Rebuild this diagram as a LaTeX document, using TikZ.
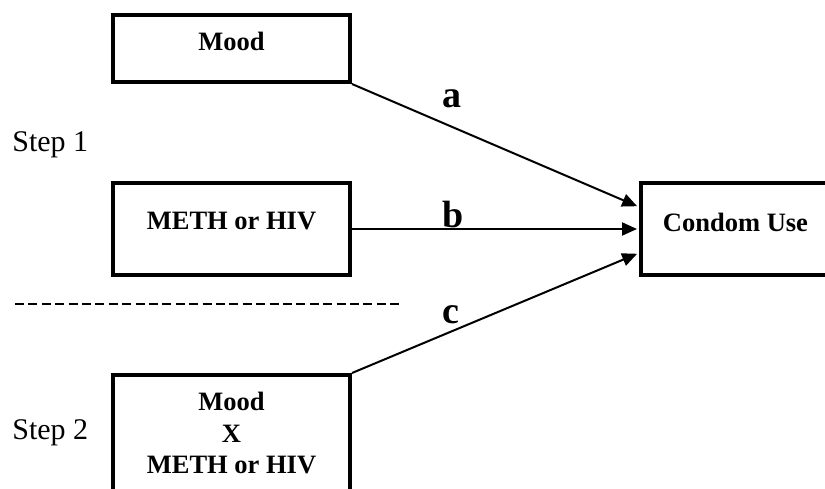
\documentclass[tikz,border=0pt]{standalone}
\usepackage{fontspec}
\setmainfont{Liberation Serif}
\usepackage{tikz}
\usetikzlibrary{arrows.meta,calc}

\tikzset{
  varbox/.style={draw, line width=2pt, minimum width=118.5pt, inner sep=0pt, align=center,
    font=\bfseries\fontsize{13.25}{15.75}\selectfont},
  steplabel/.style={anchor=base west, inner sep=0pt, font=\fontsize{15}{18}\selectfont},
  pathlabel/.style={anchor=base, inner sep=0pt, font=\bfseries\fontsize{19}{22}\selectfont},
  effect/.style={-{Triangle[length=7.5pt,width=6.5pt]}, line width=1pt, shorten >=1pt}
}

\begin{document}
\begin{tikzpicture}[x=0.5pt, y=-0.5pt]
\clip (0,0) rectangle (825,488);
% boxes
\node[varbox, text height=17.5pt, text depth=16pt] (mood) at (231.5,48.5) {Mood};
\node[varbox, text height=23pt, text depth=23pt] (meth) at (231.5,229) {METH or HIV};
\node[varbox, minimum height=58pt] (inter) at (231.5,433) {Mood\\X\\METH or HIV};
\node[varbox, minimum width=94.5pt, text height=24pt, text depth=22pt] (condom) at (735.5,229) {Condom Use};
% steps
\node[steplabel] (step1) at (12,151) {Step 1};
\node[steplabel] (step2) at (12,439) {Step 2};
\draw[line width=1pt, dash pattern=on 4.5pt off 2.2pt] (15,304) -- (400,304);
% paths
\draw[effect] (mood.south east) -- ([yshift=11pt]condom.west);
\draw[effect] (meth.east) -- (condom.west);
\draw[effect] (inter.north east) -- ([yshift=-12pt]condom.west);
\node[pathlabel] (a) at (452,107) {a};
\node[pathlabel] (b) at (453,227) {b};
\node[pathlabel] (c) at (451,323) {c};
\end{tikzpicture}
\end{document}
